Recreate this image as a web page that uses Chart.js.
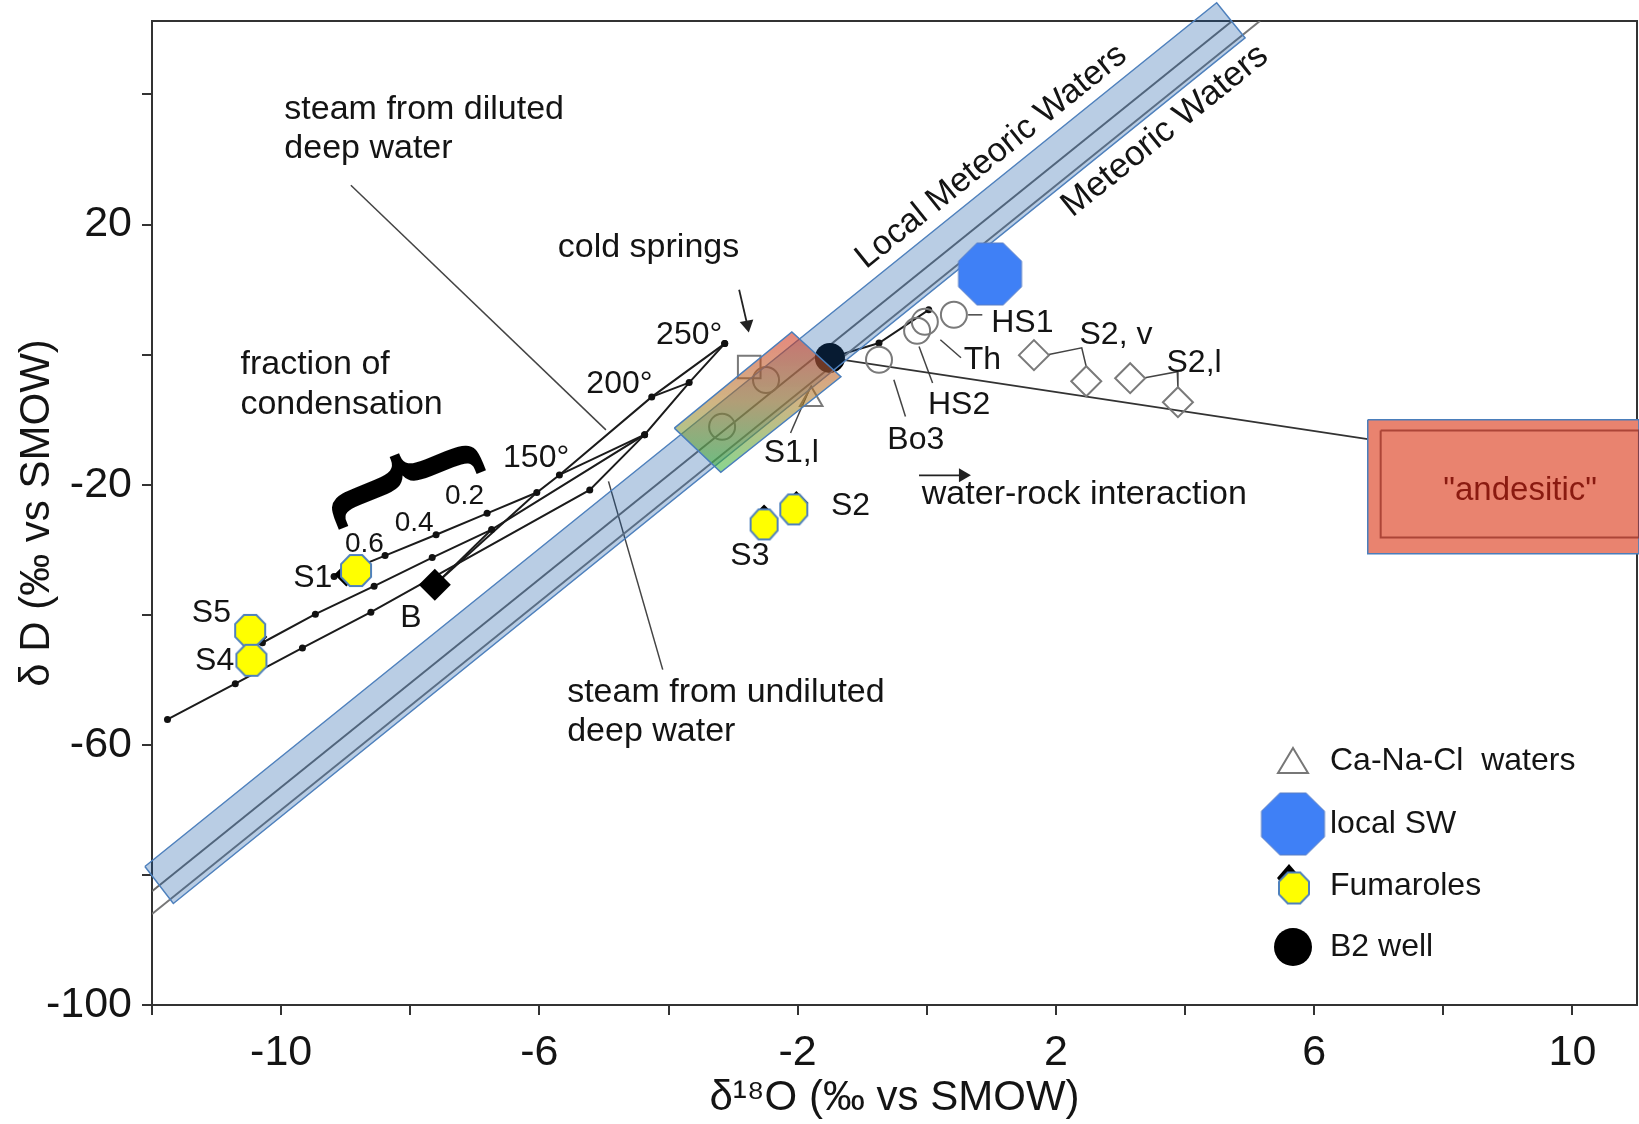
<!DOCTYPE html>
<html>
<head>
<meta charset="utf-8">
<title>δD vs δ18O</title>
<script src="https://cdn.jsdelivr.net/npm/chart.js@4.4.0/dist/chart.umd.min.js"></script>
<style>
  html, body { margin: 0; padding: 0; background: #fff; }
  #wrap { width: 1639px; height: 1124px; }
</style>
</head>
<body>
<div id="wrap"><canvas id="chart" width="1639" height="1124"></canvas></div>
<script>
const FONT = '"Liberation Sans", Arial, Helvetica, sans-serif';
const INK = "#141414";

// axis ticks
const xTicks = [-12, -10, -8, -6, -4, -2, 0, 2, 4, 6, 8, 10];
const xLabelled = [-10, -6, -2, 2, 6, 10];
const yTicks = [-100, -80, -60, -40, -20, 0, 20, 40];
const yLabelled = [-100, -60, -20, 20];

// meteoric water lines (end points) and the highlight band
const gmwlX = [-12, 5.16];
const gmwlY = [-86, 51.3];
const lmwlX = [-12, 4.73];
const lmwlY = [-82.5, 51.3];
const bandX = [-12.11, -11.67, 4.93, 4.49];
const bandY = [-78.7, -84.4, 48.7, 54.1];

// steam separation / condensation curves
const upperX = [-3.13, -4.26, -5.69, -6.04, -6.81, -7.60, -8.39, -9.18];
const upperY = [1.7, -6.5, -18.5, -21.2, -24.4, -27.7, -30.9, -34.1];
const middleX = [-3.13, -3.68, -4.37, -6.74, -7.66, -8.56, -9.47, -10.29];
const middleY = [1.7, -4.3, -12.3, -26.9, -31.2, -35.6, -39.9, -44.3];
const lowerX = [-4.37, -5.22, -8.61, -9.67, -10.71, -11.76];
const lowerY = [-12.3, -20.8, -39.6, -45.1, -50.6, -56.1];
const tieX = [[-4.26, -3.68], [-5.69, -4.37], [-6.04, -7.62], [-6.74, -7.62]];
const tieY = [[-6.5, -4.3], [-18.5, -12.3], [-21.2, -35.4], [-26.9, -35.4]];

// samples
const fumaroleX = [-8.84, -10.48, -10.46, -2.52, -2.06];
const fumaroleY = [-33.2, -42.4, -47.0, -26.1, -23.8];
const fumaroleOldX = [-8.99, -10.40, -2.52, -2.02];
const fumaroleOldY = [-33.8, -43.4, -24.9, -22.8];
const boreBX = [-7.62];
const boreBY = [-35.4];
const b2X = [-1.5];
const b2Y = [-0.5];
const localSWX = [0.98];
const localSWY = [12.4];
const springCircleX = [0.42, -0.15, -0.03, -0.74, -3.17, -2.49];
const springCircleY = [6.13, 3.67, 5.05, -0.79, -11.1, -3.9];
const springDiamondX = [1.66, 2.47, 3.15, 3.89];
const springDiamondY = [-0.08, -4.09, -3.62, -7.31];
const coldSquareX = [-2.75];
const coldSquareY = [-1.9];
const caNaClX = [-1.79];
const caNaClY = [-6.9];
const mixX = [-1.5, -0.74, 0.03];
const mixY = [-0.5, 1.78, 6.89];
const wriX = [-1.5, 6.83];
const wriY = [-0.5, -13.0];
const andesiteX = [6.83, 11.03];
const andesiteY = [-10.0, -30.6];
const glowX = [-3.91, -3.19, -1.33, -2.09];
const glowY = [-11.3, -18.1, -3.4, 3.5];

// pointer / leader lines
const leaders = [
  [[-8.92, -4.97], [26.05, -11.57]],
  [[-4.93, -4.09], [-19.49, -48.43]],
  [[1.89, 2.40, 2.47], [0.02, 1.05, -1.87]],
  [[3.38, 3.88, 3.89], [-3.56, -2.63, -5.09]],
  [[0.64, 0.86], [6.12, 6.12]],
  [[0.21, 0.53], [2.28, -0.48]],
  [[-0.12, 0.09], [1.25, -4.37]],
  [[-0.51, -0.33], [-3.86, -9.5]],
  [[-1.82, -2.11], [-5.4, -12.05]]
];

// annotation texts [text, x, y, size, align]
const notes = [
  ["steam from diluted", -9.95, 37.6, 34, "left"],
  ["deep water", -9.95, 31.7, 34, "left"],
  ["fraction of", -10.63, -1.6, 34, "left"],
  ["condensation", -10.63, -7.7, 34, "left"],
  ["steam from undiluted", -5.57, -52.0, 34, "left"],
  ["deep water", -5.57, -57.9, 34, "left"],
  ["cold springs", -4.31, 16.4, 34],
  ["water-rock interaction", 2.44, -21.6, 34],
  ["250°", -3.68, 3.05, 32],
  ["200°", -4.76, -4.6, 32],
  ["150°", -6.05, -15.9, 32],
  ["0.2", -7.16, -21.8, 28],
  ["0.4", -7.94, -25.9, 28],
  ["0.6", -8.71, -29.2, 28],
  ["S1", -9.51, -34.3, 32],
  ["S5", -11.08, -39.7, 32],
  ["S4", -11.03, -47.15, 32],
  ["B", -7.99, -40.5, 32],
  ["S3", -2.74, -31.0, 32],
  ["S2", -1.18, -23.3, 32],
  ["S1,l", -2.1, -15.1, 32],
  ["Bo3", -0.17, -13.1, 32],
  ["HS2", 0.5, -7.7, 32],
  ["Th", 0.86, -0.8, 32],
  ["HS1", 1.48, 4.85, 32],
  ["S2, v", 2.93, 3.05, 32],
  ["S2,l", 4.14, -1.3, 32]
];

const legendLabels = ["Ca-Na-Cl  waters", "local SW", "Fumaroles", "B2 well"];

function octagon(w, h, fill, stroke, lw) {
  const c = document.createElement("canvas");
  c.width = Math.ceil(w + lw * 2 + 2);
  c.height = Math.ceil(h + lw * 2 + 2);
  const g = c.getContext("2d");
  const a = w / 2, b = h / 2, k = 0.4142;
  g.translate(c.width / 2, c.height / 2);
  g.beginPath();
  [[-a * k, -b], [a * k, -b], [a, -b * k], [a, b * k], [a * k, b], [-a * k, b], [-a, b * k], [-a, -b * k]]
    .forEach((p, i) => i ? g.lineTo(p[0], p[1]) : g.moveTo(p[0], p[1]));
  g.closePath();
  g.fillStyle = fill;
  g.fill();
  g.lineWidth = lw;
  g.strokeStyle = stroke;
  g.stroke();
  return c;
}

const octBlue = octagon(63, 62, "#3F80F6", "#5B7FC4", 1);
const octYellow = octagon(30, 31, "#FFFF00", "#4F81BD", 2);
const octYellowNarrow = octagon(27, 30, "#FFFF00", "#4F81BD", 2);

const pts = (xs, ys) => xs.map((x, i) => ({ x, y: ys[i] }));
const closed = a => a.concat([a[0]]);
const near = (list, v) => list.some(l => Math.abs(l - v) < 1e-6);

function path(xs, ys, opt) {
  return Object.assign({
    data: pts(xs, ys), showLine: true, tension: 0,
    borderColor: "#1b1b1b", borderWidth: 2, pointRadius: 0, order: 10
  }, opt);
}

function marks(xs, ys, opt) {
  return Object.assign({ data: pts(xs, ys), showLine: false, order: 9 }, opt);
}

const glowFill = (ctx, p) => {
  const ys = p.map(q => q.y);
  const g = ctx.createLinearGradient(0, Math.max(...ys), 0, Math.min(...ys));
  g.addColorStop(0, "rgba(40,180,50,0.55)");
  g.addColorStop(0.5, "rgba(170,120,30,0.55)");
  g.addColorStop(1, "rgba(210,44,26,0.57)");
  return g;
};

const dotStyle = { pointRadius: 3.5, pointBackgroundColor: "#111", pointBorderWidth: 0 };
const gray = { pointBorderColor: "#7a7a7a", pointBackgroundColor: "rgba(255,255,255,0)", pointBorderWidth: 2 };

const datasets = [
  marks(localSWX, localSWY, { pointStyle: octBlue, pointRadius: 30, order: 1 }),
  marks(fumaroleX, fumaroleY, {
    pointStyle: fumaroleX.map((x, i) => i < 3 ? octYellow : octYellowNarrow),
    pointRadius: 14, order: 1
  }),
  path([andesiteX[0] + 0.2, andesiteX[1], andesiteX[1], andesiteX[0] + 0.2, andesiteX[0] + 0.2],
       [andesiteY[0] - 1.65, andesiteY[0] - 1.65, andesiteY[1] + 2.5, andesiteY[1] + 2.5, andesiteY[0] - 1.65],
       { borderColor: "rgba(140,35,25,0.65)", borderWidth: 2, clip: false, order: 2 }),
  path(closed([andesiteX[0], andesiteX[1], andesiteX[1], andesiteX[0]]),
       closed([andesiteY[0], andesiteY[0], andesiteY[1], andesiteY[1]]),
       { borderColor: "#4A7EBB", borderWidth: 1.5, clip: false, polyFill: "#E9836F", order: 3 }),
  path(closed(glowX), closed(glowY), { borderColor: "#4A7EBB", borderWidth: 1.5, polyFill: glowFill, order: 4 }),
  path(closed(bandX), closed(bandY), {
    borderColor: "#4F81BD", borderWidth: 1.5, clip: false, polyFill: "rgba(22,88,165,0.3)", order: 5
  }),
  marks(b2X, b2Y, { pointStyle: "circle", pointRadius: 15, pointBackgroundColor: "#000", pointBorderWidth: 0, order: 8 }),
  marks(boreBX, boreBY, { pointStyle: "rectRot", pointRadius: 16, pointBackgroundColor: "#000", pointBorderWidth: 0, order: 8 }),
  marks(fumaroleOldX, fumaroleOldY, { pointStyle: "rectRot", pointRadius: 12, pointBackgroundColor: "#000", pointBorderWidth: 0, order: 8 }),
  marks(springCircleX, springCircleY, Object.assign({ pointStyle: "circle", pointRadius: 13 }, gray)),
  marks(springDiamondX, springDiamondY, Object.assign({ pointStyle: "rectRot", pointRadius: 15 }, gray)),
  marks(coldSquareX, coldSquareY, Object.assign({ pointStyle: "rect", pointRadius: 16 }, gray)),
  marks(caNaClX, caNaClY, Object.assign({ pointStyle: "triangle", pointRadius: 13 }, gray)),
  path(gmwlX, gmwlY, { borderColor: "#777", borderWidth: 2 }),
  path(lmwlX, lmwlY, { borderColor: "#6a6a6a", borderWidth: 2 }),
  path(upperX, upperY, dotStyle),
  path(middleX, middleY, dotStyle),
  path(lowerX, lowerY, dotStyle),
  path(mixX, mixY, Object.assign({}, dotStyle, { pointRadius: [0, 3.5, 3.5] })),
  path(wriX, wriY, { borderColor: "#333", borderWidth: 1.8 }),
  path([-2.906, -2.78], [9.97, 4.6], {
    borderColor: "#222", borderWidth: 1.8, pointStyle: "triangle", pointRadius: [0, 8],
    pointRotation: 169, pointBackgroundColor: "#222", pointBorderWidth: 0
  }),
  path([-0.12, 0.56], [-18.55, -18.55], {
    borderColor: "#222", borderWidth: 1.8, pointStyle: "triangle", pointRadius: [0, 8],
    pointRotation: 90, pointBackgroundColor: "#222", pointBorderWidth: 0
  })
];
tieX.forEach((xs, i) => datasets.push(path(xs, tieY[i])));
leaders.forEach(l => datasets.push(path(l[0], l[1], { borderColor: "#444", borderWidth: 1.5 })));

// fills closed outlines without clipping, under the outline itself
const polygonFill = {
  id: "polygonFill",
  beforeDatasetDraw(chart, args) {
    const ds = chart.data.datasets[args.index];
    if (!ds.polyFill) return;
    const p = args.meta.data;
    const ctx = chart.ctx;
    ctx.save();
    ctx.beginPath();
    p.forEach((q, i) => i ? ctx.lineTo(q.x, q.y) : ctx.moveTo(q.x, q.y));
    ctx.closePath();
    ctx.fillStyle = typeof ds.polyFill === "function" ? ds.polyFill(ctx, p) : ds.polyFill;
    ctx.fill();
    ctx.restore();
  }
};

const frame = {
  id: "frame",
  beforeDatasetsDraw(chart) {
    const { ctx, chartArea: a } = chart;
    ctx.save();
    ctx.strokeStyle = "#333";
    ctx.lineWidth = 2;
    ctx.strokeRect(a.left, a.top, a.right - a.left, a.bottom - a.top);
    ctx.restore();
  }
};

const annotations = {
  id: "annotations",
  afterDatasetsDraw(chart) {
    const { ctx, chartArea: a } = chart;
    const sx = chart.scales.x, sy = chart.scales.y;
    const X = v => sx.getPixelForValue(v), Y = v => sy.getPixelForValue(v);

    ctx.save();
    ctx.fillStyle = INK;
    ctx.textBaseline = "middle";
    notes.forEach(n => {
      ctx.font = n[3] + "px " + FONT;
      ctx.textAlign = n[4] || "center";
      ctx.fillText(n[0], X(n[1]), Y(n[2]));
    });

    // labels along the meteoric lines
    const angle = -38.8 * Math.PI / 180;
    [["Local Meteoric Waters", 1.0, 30.45, 34], ["Meteoric Waters", 3.69, 34.4, 35]].forEach(n => {
      ctx.save();
      ctx.translate(X(n[1]), Y(n[2]));
      ctx.rotate(angle);
      ctx.font = n[3] + "px " + FONT;
      ctx.textAlign = "center";
      ctx.fillText(n[0], 0, 0);
      ctx.restore();
    });

    // "andesitic" box text
    ctx.font = "33px " + FONT;
    ctx.textAlign = "center";
    ctx.fillStyle = "#8A1A10";
    ctx.fillText('"andesitic"', X(9.19), Y(-20.96));

    // curly brace for the fraction of condensation
    ctx.save();
    ctx.translate(X(-8.2), Y(-19.3));
    ctx.rotate(68 * Math.PI / 180);
    ctx.scale(0.6, 1);
    ctx.font = 'bold 172px "DejaVu Serif", serif';
    ctx.fillStyle = "#000";
    ctx.textAlign = "center";
    ctx.fillText("{", 0, 0);
    ctx.restore();

    // legend
    const mx = a.right - 344, tx = a.right - 307;
    const rows = [a.bottom - 244, a.bottom - 181, a.bottom - 119, a.bottom - 58];
    ctx.strokeStyle = "#777";
    ctx.lineWidth = 2;
    ctx.beginPath();
    ctx.moveTo(mx, rows[0] - 13);
    ctx.lineTo(mx + 15, rows[0] + 12);
    ctx.lineTo(mx - 15, rows[0] + 12);
    ctx.closePath();
    ctx.stroke();
    ctx.drawImage(octBlue, mx - octBlue.width / 2, rows[1] - octBlue.height / 2);
    ctx.fillStyle = "#000";
    ctx.beginPath();
    ctx.moveTo(mx - 4, rows[2] - 22);
    ctx.lineTo(mx + 8, rows[2] - 8);
    ctx.lineTo(mx - 4, rows[2] + 6);
    ctx.lineTo(mx - 16, rows[2] - 8);
    ctx.closePath();
    ctx.fill();
    ctx.drawImage(octYellow, mx + 1 - octYellow.width / 2, rows[2] + 2 - octYellow.height / 2);
    ctx.beginPath();
    ctx.arc(mx, rows[3], 19, 0, Math.PI * 2);
    ctx.fill();

    ctx.fillStyle = INK;
    ctx.font = "32px " + FONT;
    ctx.textAlign = "left";
    legendLabels.forEach((t, i) => ctx.fillText(t, tx, rows[i]));
    ctx.restore();
  }
};

const tickGrid = { drawOnChartArea: false, drawTicks: true, tickLength: 10, color: "#333", lineWidth: 2 };

new Chart(document.getElementById("chart"), {
  type: "scatter",
  data: { datasets },
  options: {
    responsive: false,
    animation: false,
    events: [],
    layout: { autoPadding: false, padding: { top: 21, right: 2, left: 0, bottom: 0 } },
    plugins: { legend: { display: false }, tooltip: { enabled: false } },
    scales: {
      x: {
        type: "linear", min: -12, max: 11,
        border: { display: false },
        grid: tickGrid,
        ticks: {
          padding: 12, autoSkip: false, maxRotation: 0, color: INK,
          font: { family: FONT, size: 43 },
          callback: v => near(xLabelled, v) ? String(Math.round(v)) : ""
        },
        afterBuildTicks: s => { s.ticks = xTicks.map(v => ({ value: v })); },
        afterFit: s => { s.height = 119; s.paddingLeft = 0; s.paddingRight = 0; },
        title: {
          display: true, text: "δ¹⁸O (‰ vs SMOW)", color: INK,
          font: { family: FONT, size: 42 }, padding: { top: 0, bottom: 0 }
        }
      },
      y: {
        type: "linear", min: -100, max: 51.3,
        border: { display: false },
        grid: tickGrid,
        ticks: {
          padding: 10, autoSkip: false, color: INK,
          font: { family: FONT, size: 43 },
          callback: v => near(yLabelled, v) ? String(Math.round(v)) : ""
        },
        afterBuildTicks: s => { s.ticks = yTicks.map(v => ({ value: v })); },
        afterFit: s => { s.width = 152; s.paddingTop = 0; s.paddingBottom = 0; },
        title: {
          display: true, text: "δ D (‰ vs SMOW)", color: INK,
          font: { family: FONT, size: 42 }, padding: { top: 12, bottom: 0 }
        }
      }
    }
  },
  plugins: [polygonFill, frame, annotations]
});
</script>
</body>
</html>
